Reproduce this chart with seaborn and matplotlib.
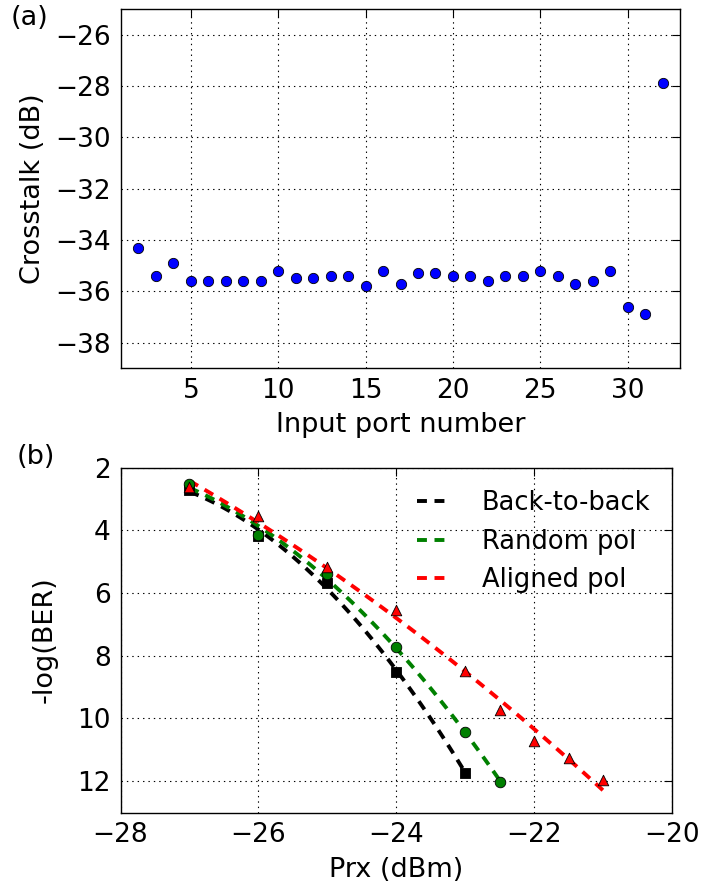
import numpy as np
import pandas as pd
import matplotlib
matplotlib.use("Agg")
import matplotlib.pyplot as plt
from matplotlib.lines import Line2D
import seaborn as sns

# ---------------- data ----------------
ports = list(range(2, 33))
crosstalk_db = [-34.3, -35.4, -34.9, -35.6, -35.6, -35.6, -35.6, -35.6, -35.2, -35.5,
                -35.5, -35.4, -35.4, -35.8, -35.2, -35.7, -35.3, -35.3, -35.4, -35.4,
                -35.6, -35.4, -35.4, -35.2, -35.4, -35.7, -35.6, -35.2, -36.6, -36.9,
                -27.9]

prx_b2b = [-27, -26, -25, -24, -23]
ber_b2b = [2.70, 4.17, 5.69, 8.51, 11.73]

prx_random = [-27, -26, -25, -24, -23, -22.5]
ber_random = [2.52, 4.16, 5.39, 7.73, 10.43, 12.02]

prx_aligned = [-27, -26, -25, -24, -23, -22.5, -22, -21.5, -21]
ber_aligned = [2.63, 3.54, 5.16, 6.54, 8.49, 9.73, 10.71, 11.26, 11.97]

series_labels = ["Back-to-back", "Random pol", "Aligned pol"]
series_colors = ["black", "green", "red"]
series_markers = ["s", "o", "^"]

TICK_FS = 19
LABEL_FS = 19.5
LEG_FS = 18.5
LW = 2.8
DASH = (2.55, 1.95)

# ---------------- style ----------------
sns.set_style("white")
plt.rcParams["font.family"] = ["DejaVu Sans"]
plt.rcParams["font.size"] = TICK_FS
plt.rcParams["axes.linewidth"] = 1.0
plt.rcParams["axes.edgecolor"] = "black"
plt.rcParams["text.color"] = "black"
plt.rcParams["axes.labelcolor"] = "black"
plt.rcParams["xtick.color"] = "black"
plt.rcParams["ytick.color"] = "black"

W, H = 704, 888
fig = plt.figure(figsize=(W / 100, H / 100), dpi=100)
fig.patch.set_facecolor("white")

def px_axes(left, top, right, bottom):
    return fig.add_axes([left / W, 1 - bottom / H, (right - left) / W, (bottom - top) / H])

ax1 = px_axes(121, 9, 680, 368.3)
ax2 = px_axes(120.5, 467.6, 672, 812.5)

def style_axis(ax):
    ax.tick_params(direction="in", top=True, right=True, length=5.5, width=0.8,
                   labelsize=TICK_FS, pad=7, colors="black")
    ax.grid(True, color="black", linestyle=(0, (1.25, 3.6)), linewidth=0.8)
    for s in ax.spines.values():
        s.set_visible(True)
        s.set_color("black")
        s.set_linewidth(1.0)

# ---------------- (a) ----------------
df_a = pd.DataFrame({"port": ports, "xt": crosstalk_db})
sns.scatterplot(data=df_a, x="port", y="xt", ax=ax1, color="blue", edgecolor="black",
                linewidth=0.6, s=55, zorder=3)
ax1.set_xlim(1, 33)
ax1.set_ylim(-39, -25)
ax1.set_xticks([5, 10, 15, 20, 25, 30])
ax1.set_yticks([-38, -36, -34, -32, -30, -28, -26])
ax1.set_xlabel("Input port number", fontsize=LABEL_FS, labelpad=6)
ax1.set_ylabel("Crosstalk (dB)", fontsize=LABEL_FS, labelpad=7)
style_axis(ax1)
fig.text(11 / W, 1 - 18 / H, "(a)", fontsize=LABEL_FS, ha="left", va="center")

# ---------------- (b) ----------------
xs = [prx_b2b, prx_random, prx_aligned]
ys = [ber_b2b, ber_random, ber_aligned]
for x, y, lab, col in zip(xs, ys, series_labels, series_colors):
    sns.regplot(x=np.array(x, float), y=np.array(y, float), order=2, ci=None,
                scatter=False, ax=ax2, color=col,
                line_kws=dict(linewidth=LW, dashes=DASH, zorder=2))
for x, y, col, mk in zip(xs, ys, series_colors, series_markers):
    sns.scatterplot(x=x, y=y, ax=ax2, color=col, marker=mk, edgecolor="black",
                    linewidth=0.6, s=58, zorder=3)

ax2.set_xlim(-28, -20)
ax2.set_ylim(13, 2)
ax2.set_xticks([-28, -26, -24, -22, -20])
ax2.set_yticks([2, 4, 6, 8, 10, 12])
ax2.set_xlabel("Prx (dBm)", fontsize=LABEL_FS, labelpad=6)
ax2.set_ylabel("-log(BER)", fontsize=LABEL_FS, labelpad=14)
style_axis(ax2)
handles = [Line2D([], [], color=c, linewidth=LW, dashes=DASH) for c in series_colors]
leg = ax2.legend(handles, series_labels,
                 loc="upper left", bbox_to_anchor=(0.5376, 0.935), frameon=False,
                 fontsize=LEG_FS, handlelength=1.17, handletextpad=1.35,
                 labelspacing=0.49, borderpad=0, borderaxespad=0)
fig.text(17 / W, 1 - 457 / H, "(b)", fontsize=LABEL_FS, ha="left", va="center")

fig.savefig("out.png", dpi=100, facecolor="white")
